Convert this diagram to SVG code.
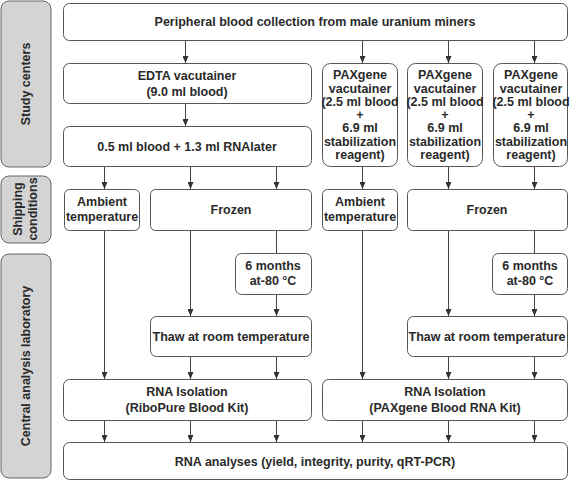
<svg xmlns="http://www.w3.org/2000/svg" width="570" height="481" viewBox="0 0 570 481">
<defs>
<style>
.b{fill:#fff;stroke:#555;stroke-width:1}
.s{fill:#d4d4d4;stroke:#666;stroke-width:1}
text{font-family:"Liberation Sans",Arial,sans-serif;font-weight:bold;font-size:12.5px;fill:#2a2a2a;text-anchor:middle}
.c line{stroke:#444;stroke-width:1}
</style>
<marker id="a" markerWidth="7" markerHeight="6" refX="7" refY="3" orient="auto" markerUnits="userSpaceOnUse"><path d="M0,0L7,3L0,6z" fill="#333"/></marker>
</defs>
<g id="side-study"><rect class="s" x="1" y="1" width="50" height="166" rx="8"/><text transform="translate(30,84) rotate(-90)">Study centers</text></g>
<g id="side-shipping"><rect class="s" x="1" y="176" width="50" height="67" rx="8"/><text transform="translate(22,209) rotate(-90)">Shipping</text><text transform="translate(37,209) rotate(-90)">conditions</text></g>
<g id="side-central"><rect class="s" x="1" y="254" width="50" height="224" rx="8"/><text transform="translate(30,366) rotate(-90)">Central analysis laboratory</text></g>

<g id="top"><rect class="b" x="63.5" y="3.5" width="504" height="37" rx="6"/><text x="315" y="26">Peripheral blood collection from male uranium miners</text></g>
<g id="edta"><rect class="b" x="63.5" y="63.5" width="248" height="40" rx="6"/><text x="187" y="80">EDTA vacutainer</text><text x="187" y="96">(9.0 ml blood)</text></g>
<g id="rnalater"><rect class="b" x="63.5" y="126.5" width="248" height="40" rx="6"/><text x="187" y="151">0.5 ml blood + 1.3 ml RNAlater</text></g>
<g id="pax1"><rect class="b" x="322.5" y="63.5" width="75" height="103" rx="8"/><text x="360" y="79">PAXgene</text><text x="360" y="93">vacutainer</text><text x="360" y="106">(2.5 ml blood</text><text x="360" y="119">+</text><text x="360" y="132">6.9 ml</text><text x="360" y="146">stabilization</text><text x="360" y="159">reagent)</text></g>
<g id="pax2"><rect class="b" x="407.5" y="63.5" width="75" height="103" rx="8"/><text x="445" y="79">PAXgene</text><text x="445" y="93">vacutainer</text><text x="445" y="106">(2.5 ml blood</text><text x="445" y="119">+</text><text x="445" y="132">6.9 ml</text><text x="445" y="146">stabilization</text><text x="445" y="159">reagent)</text></g>
<g id="pax3"><rect class="b" x="493.5" y="63.5" width="74" height="103" rx="8"/><text x="531" y="79">PAXgene</text><text x="531" y="93">vacutainer</text><text x="531" y="106">(2.5 ml blood</text><text x="531" y="119">+</text><text x="531" y="132">6.9 ml</text><text x="531" y="146">stabilization</text><text x="531" y="159">reagent)</text></g>

<g id="amb1"><rect class="b" x="64.5" y="189.5" width="75" height="41" rx="5"/><text x="102" y="206">Ambient</text><text x="102" y="221">temperature</text></g>
<g id="frozen1"><rect class="b" x="150.5" y="189.5" width="161" height="41" rx="5"/><text x="231" y="214">Frozen</text></g>
<g id="amb2"><rect class="b" x="322.5" y="189.5" width="75" height="41" rx="5"/><text x="360" y="206">Ambient</text><text x="360" y="221">temperature</text></g>
<g id="frozen2"><rect class="b" x="407.5" y="189.5" width="160" height="41" rx="5"/><text x="487" y="214">Frozen</text></g>

<g id="six1"><rect class="b" x="235.5" y="253.5" width="76" height="41" rx="6"/><text x="273" y="270">6 months</text><text x="273" y="285">at-80 °C</text></g>
<g id="six2"><rect class="b" x="492.5" y="253.5" width="75" height="41" rx="6"/><text x="530" y="270">6 months</text><text x="530" y="285">at-80 °C</text></g>

<g id="thaw1"><rect class="b" x="150.5" y="316.5" width="161" height="40" rx="6"/><text x="231" y="341">Thaw at room temperature</text></g>
<g id="thaw2"><rect class="b" x="407.5" y="316.5" width="160" height="40" rx="6"/><text x="487" y="341">Thaw at room temperature</text></g>

<g id="iso1"><rect class="b" x="63.5" y="379.5" width="248" height="41" rx="6"/><text x="187" y="396">RNA Isolation</text><text x="187" y="412">(RiboPure Blood Kit)</text></g>
<g id="iso2"><rect class="b" x="322.5" y="379.5" width="245" height="41" rx="6"/><text x="445" y="396">RNA Isolation</text><text x="445" y="412">(PAXgene Blood RNA Kit)</text></g>

<g id="analyses"><rect class="b" x="63.5" y="442.5" width="504" height="37" rx="6"/><text x="315" y="466">RNA analyses (yield, integrity, purity, qRT-PCR)</text></g>

<g class="c" id="connectors">
<line x1="185.5" y1="41" x2="185.5" y2="63" marker-end="url(#a)"/>
<line x1="185.5" y1="104" x2="185.5" y2="126" marker-end="url(#a)"/>
<line x1="362.5" y1="41" x2="362.5" y2="63" marker-end="url(#a)"/>
<line x1="448.5" y1="41" x2="448.5" y2="63" marker-end="url(#a)"/>
<line x1="534.5" y1="41" x2="534.5" y2="63" marker-end="url(#a)"/>
<line x1="104.5" y1="167" x2="104.5" y2="189" marker-end="url(#a)"/>
<line x1="190.5" y1="167" x2="190.5" y2="189" marker-end="url(#a)"/>
<line x1="276.5" y1="167" x2="276.5" y2="189" marker-end="url(#a)"/>
<line x1="362.5" y1="167" x2="362.5" y2="189" marker-end="url(#a)"/>
<line x1="448.5" y1="167" x2="448.5" y2="189" marker-end="url(#a)"/>
<line x1="534.5" y1="167" x2="534.5" y2="189" marker-end="url(#a)"/>
<line x1="104.5" y1="231" x2="104.5" y2="379" marker-end="url(#a)"/>
<line x1="190.5" y1="231" x2="190.5" y2="316" marker-end="url(#a)"/>
<line x1="276.5" y1="231" x2="276.5" y2="253"/>
<line x1="276.5" y1="295" x2="276.5" y2="316" marker-end="url(#a)"/>
<line x1="362.5" y1="231" x2="362.5" y2="379" marker-end="url(#a)"/>
<line x1="448.5" y1="231" x2="448.5" y2="316" marker-end="url(#a)"/>
<line x1="534.5" y1="231" x2="534.5" y2="253"/>
<line x1="534.5" y1="295" x2="534.5" y2="316" marker-end="url(#a)"/>
<line x1="190.5" y1="357" x2="190.5" y2="379" marker-end="url(#a)"/>
<line x1="276.5" y1="357" x2="276.5" y2="379" marker-end="url(#a)"/>
<line x1="448.5" y1="357" x2="448.5" y2="379" marker-end="url(#a)"/>
<line x1="534.5" y1="357" x2="534.5" y2="379" marker-end="url(#a)"/>
<line x1="104.5" y1="421" x2="104.5" y2="442" marker-end="url(#a)"/>
<line x1="190.5" y1="421" x2="190.5" y2="442" marker-end="url(#a)"/>
<line x1="276.5" y1="421" x2="276.5" y2="442" marker-end="url(#a)"/>
<line x1="362.5" y1="421" x2="362.5" y2="442" marker-end="url(#a)"/>
<line x1="448.5" y1="421" x2="448.5" y2="442" marker-end="url(#a)"/>
<line x1="534.5" y1="421" x2="534.5" y2="442" marker-end="url(#a)"/>
</g>
</svg>
